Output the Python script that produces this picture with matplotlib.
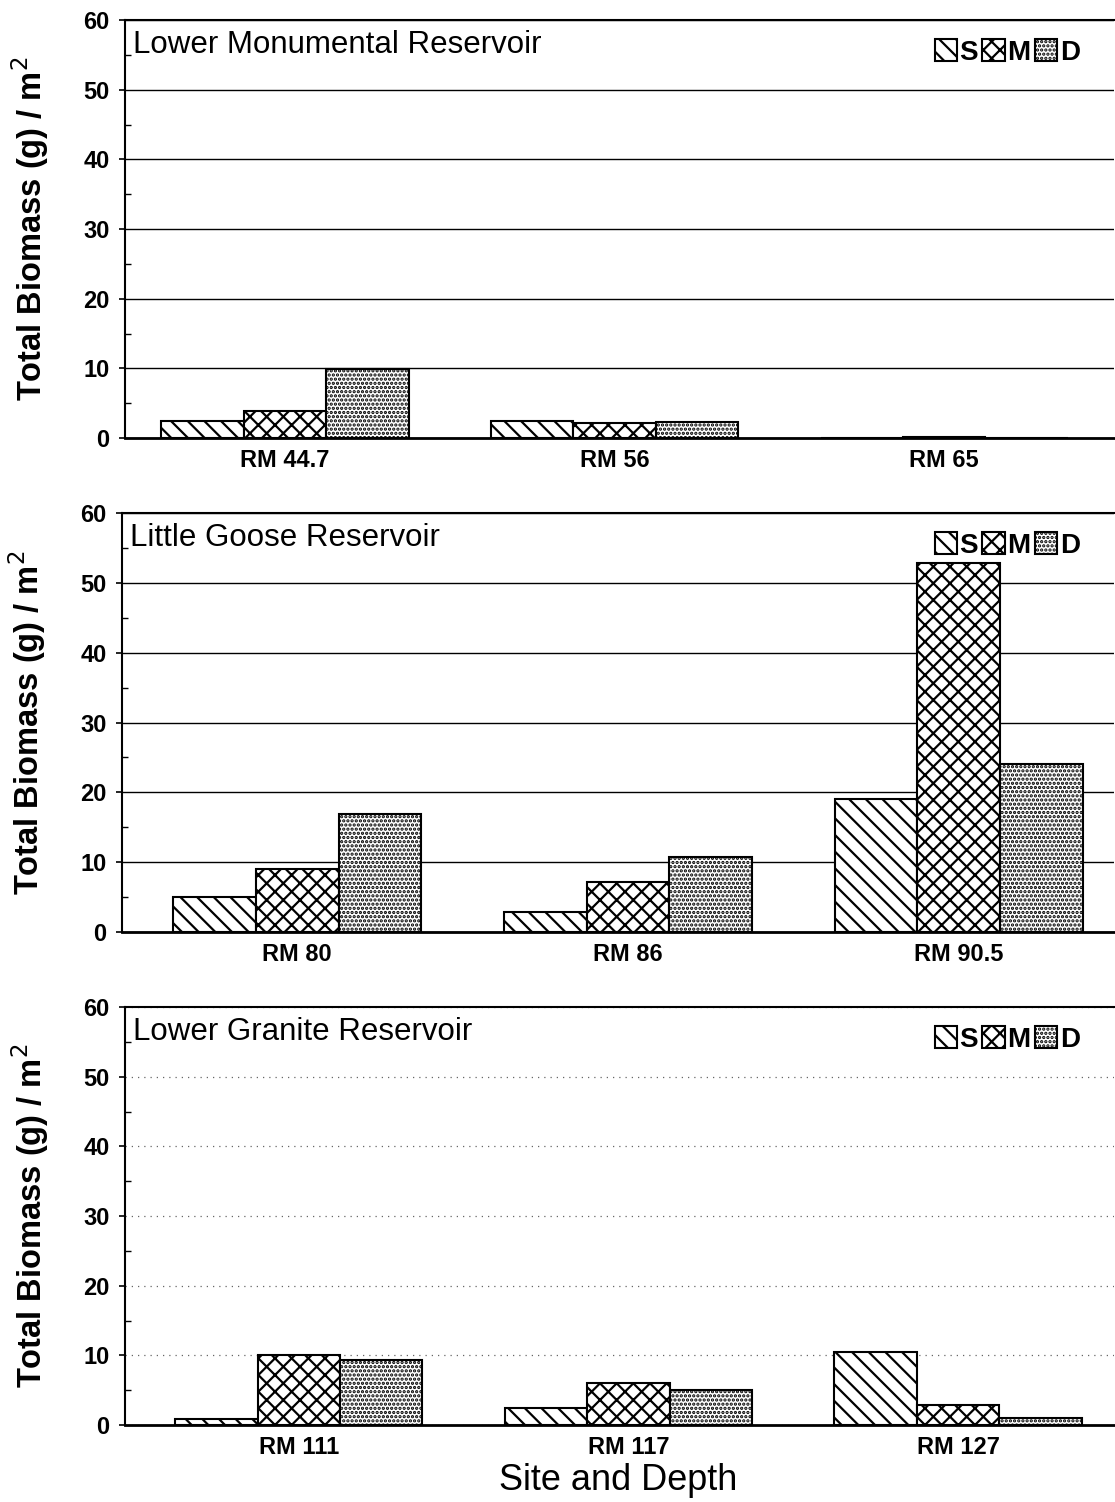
import matplotlib
matplotlib.use("Agg")
import matplotlib.pyplot as plt
from matplotlib.ticker import MultipleLocator
import numpy as np

plt.rcParams["font.family"] = ["Liberation Sans", "DejaVu Sans"]
plt.rcParams["hatch.linewidth"] = 1.6

# values (g / m^2)
titles = ["Lower Monumental Reservoir", "Little Goose Reservoir", "Lower Granite Reservoir"]
sites1 = ["RM 44.7", "RM 56", "RM 65"]
shallow1 = [2.5, 2.5, 0.0]
mid1 = [3.9, 2.1, 0.2]
deep1 = [9.9, 2.3, 0.0]

sites2 = ["RM 80", "RM 86", "RM 90.5"]
shallow2 = [5.0, 2.9, 19.0]
mid2 = [9.0, 7.2, 52.8]
deep2 = [16.9, 10.7, 24.1]

sites3 = ["RM 111", "RM 117", "RM 127"]
shallow3 = [0.9, 2.5, 10.5]
mid3 = [10.0, 6.1, 2.8]
deep3 = [9.3, 5.0, 1.0]

depth_labels = ["S", "M", "D"]
hatches = ["\\\\", "xx", "...."]

W, H = 1115, 1502
fig = plt.figure(figsize=(W / 100, H / 100), dpi=100)

# panel boxes in pixels: left, top, bottom, x offset of first group
boxes = [(125, 20, 438, 0.485), (122, 513, 932, 0.53), (125, 1007, 1425, 0.527)]
panels = [
    (sites1, shallow1, mid1, deep1, "solid"),
    (sites2, shallow2, mid2, deep2, "solid"),
    (sites3, shallow3, mid3, deep3, "dotted"),
]

for i, ((left, top, bottom, x0), (sites, s, m, d, gstyle)) in enumerate(zip(boxes, panels)):
    ax = fig.add_axes([left / W, 1 - bottom / H, (W - 1 - left) / W, (bottom - top) / H])
    x = np.arange(len(sites))
    bw = 0.25
    bars = []
    for k, (vals, h) in enumerate(zip([s, m, d], hatches)):
        b = ax.bar(x + (k - 1) * bw, vals, width=bw, facecolor="white", edgecolor="black",
                   hatch=h, linewidth=1.5, zorder=3, label=depth_labels[k])
        bars.append(b)
    ax.set_ylim(0, 60)
    ax.set_xlim(-x0, 3 - x0)
    ax.yaxis.set_major_locator(MultipleLocator(10))
    ax.yaxis.set_minor_locator(MultipleLocator(5))
    if gstyle == "solid":
        ax.grid(axis="y", color="black", linewidth=1.0, zorder=0)
    else:
        ax.grid(axis="y", color="#666666", linewidth=0.9, linestyle=(0, (1, 4)), zorder=0)
    ax.set_xticks(x)
    ax.set_xticklabels(sites, fontsize=17, fontweight="bold")
    ax.tick_params(axis="x", length=0, pad=8)
    ax.tick_params(axis="y", which="major", length=4, width=1.2, labelsize=17, pad=7)
    ax.tick_params(axis="y", which="minor", direction="in", length=4, width=1.0)
    for lab in ax.get_yticklabels():
        lab.set_fontweight("bold")
    ax.spines["right"].set_visible(False)
    for sp in ["left", "top"]:
        ax.spines[sp].set_linewidth(1.5)
    ax.spines["bottom"].set_linewidth(2.0)
    ax.set_ylabel("Total Biomass (g) / m$^2$", fontsize=23.5, fontweight="bold")
    ax.yaxis.set_label_coords(-0.075, 0.5)
    ax.text(0.008, 0.94, titles[i], transform=ax.transAxes, fontsize=22.5,
            ha="left", va="center")
    leg = ax.legend(handles=bars, loc="upper right", bbox_to_anchor=(0.985, 1.0), frameon=False,
                    ncol=3, fontsize=20, handlelength=0.8, handleheight=0.8,
                    handletextpad=0.1, columnspacing=0.15, borderaxespad=0.3)
    for t in leg.get_texts():
        t.set_fontweight("bold")

fig.text(618 / W, 1 - 1480 / H, "Site and Depth", fontsize=26, ha="center", va="center")

fig.savefig("out.png", dpi=100)
plt.close(fig)
